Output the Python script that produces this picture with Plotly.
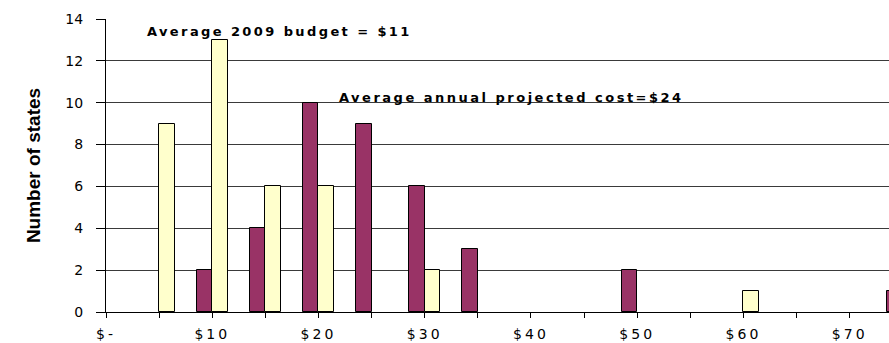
import plotly.graph_objects as go

# Per-capita cost bins (upper edge of each $5 bin)
cost_bins = [5, 10, 15, 20, 25, 30, 35, 40, 45, 50, 55, 60, 65, 70, 75]
# Number of states in each bin
projected_states = [0, 2, 4, 10, 9, 6, 3, 0, 0, 2, 0, 0, 0, 0, 1]
budget_states = [9, 13, 6, 6, 0, 2, 0, 0, 0, 0, 0, 1, 0, 0, 0]

tick_values = [0, 10, 20, 30, 40, 50, 60, 70]
tick_labels = ["$-", "$10", "$20", "$30", "$40", "$50", "$60", "$70"]

budget_note = "Average 2009 budget = $11"
projected_note = "Average annual projected cost=$24"

BAR_W = 1.45
PLUM = "#993366"
CREAM = "#FFFFCC"


def spaced(text, px):
    return f'<span style="letter-spacing:{px}px">{text}</span>'


def nonzero(values):
    # empty bins get no bar at all (avoids outline slivers on the axis)
    return [v if v else None for v in values]


fig = go.Figure()
fig.add_trace(go.Bar(
    x=cost_bins, y=nonzero(projected_states), width=BAR_W, offset=-BAR_W,
    marker=dict(color=PLUM, line=dict(color="black", width=1)),
    name="Projected annual cost",
))
fig.add_trace(go.Bar(
    x=cost_bins, y=nonzero(budget_states), width=BAR_W, offset=0,
    marker=dict(color=CREAM, line=dict(color="black", width=1)),
    name="2009 budget",
))

fig.add_annotation(
    x=3.67, y=13.4, xref="x", yref="y", xanchor="left", yanchor="middle",
    text=spaced(budget_note, 2.4), showarrow=False,
    font=dict(family="DejaVu Sans", size=13, color="black", weight="bold"),
)
fig.add_annotation(
    x=21.7, y=10.27, xref="x", yref="y", xanchor="left", yanchor="middle",
    text=spaced(projected_note, 2.5), showarrow=False,
    font=dict(family="DejaVu Sans", size=13, color="black", weight="bold"),
)

fig.update_layout(
    width=889, height=343,
    margin=dict(l=106, r=0, t=19, b=31),
    plot_bgcolor="white", paper_bgcolor="white",
    showlegend=False,
    bargap=0,
)

fig.update_xaxes(
    range=[0, 73.7],
    tickmode="array", tickvals=tick_values,
    ticktext=[spaced(t, 3) for t in tick_labels],
    ticks="outside", ticklen=5, tickcolor="black", tickwidth=1,
    minor=dict(ticks="outside", ticklen=5, dtick=5, tick0=0,
               tickcolor="black", showgrid=False),
    showline=True, linecolor="black", linewidth=1,
    showgrid=False, zeroline=False,
    ticklabelstandoff=4,
    tickfont=dict(family="DejaVu Sans", size=14, color="black"),
)

fig.update_yaxes(
    range=[0, 14], dtick=2, tick0=0,
    ticks="outside", ticklen=9, tickcolor="black", tickwidth=1,
    showline=True, linecolor="black", linewidth=1,
    showgrid=True, gridcolor="#3a3a3a", gridwidth=1,
    zeroline=False,
    ticklabelstandoff=10,
    tickfont=dict(family="DejaVu Sans", size=14, color="black"),
    title=dict(
        text="Number of states",
        font=dict(family="Liberation Sans, Arial, sans-serif",
                  size=19, color="black", weight="bold"),
        standoff=19,
    ),
)

fig.write_html("out.html")
